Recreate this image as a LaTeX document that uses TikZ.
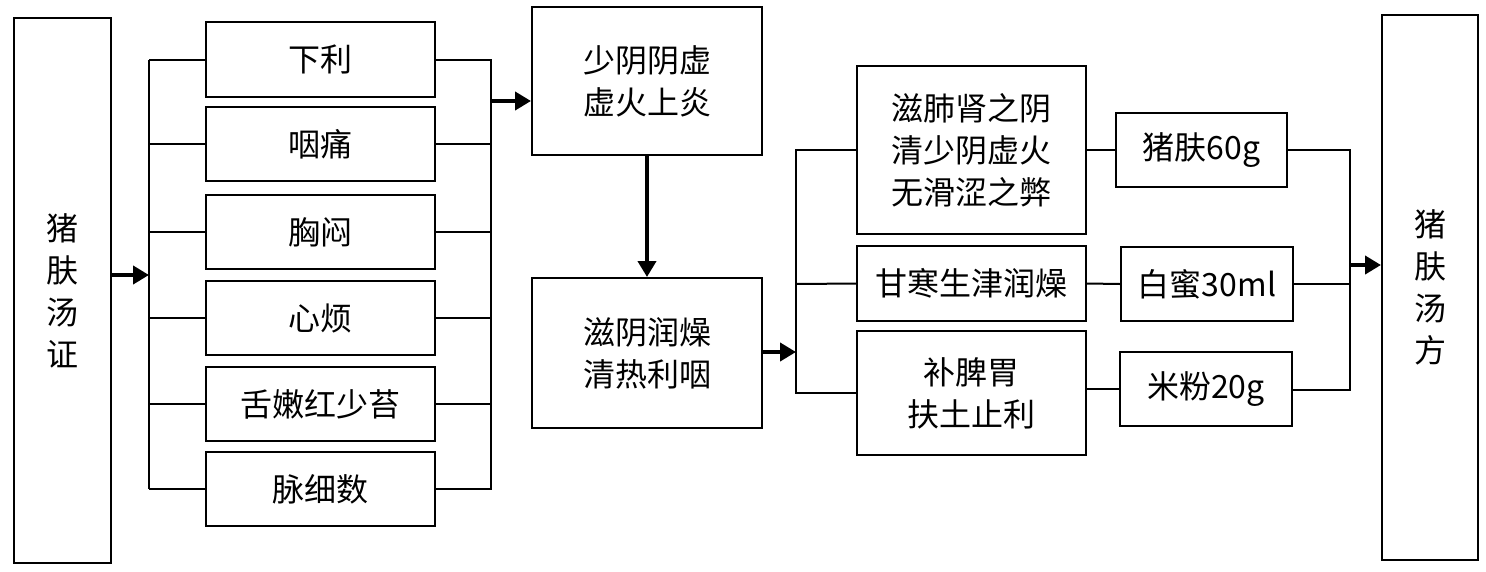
\documentclass[tikz,border=0pt]{standalone}
\usepackage{fontspec}
\newfontfamily\cjk{Noto Sans CJK SC}
\usetikzlibrary{arrows.meta}
\begin{document}
\begin{tikzpicture}[x=1pt,y=-1pt,
  bx/.style={draw,line width=2pt,inner sep=0pt,font=\cjk\fontsize{32}{42}\selectfont,align=center},
  ln/.style={line width=2pt},
  ar/.style={line width=4pt,-{Triangle[length=16pt,width=18pt]}}]
\useasboundingbox (0,0) rectangle (1486,571);
\newcommand\bxat[6]{\node[bx,minimum width={#4-#2},minimum height={#5-#3}] (#1) at ({(#2+#4)/2},{(#3+#5)/2}) {#6};}
\bxat{L}{14}{18}{111}{563}{猪\\肤\\汤\\证}
\bxat{s1}{206}{22}{435}{97}{下利}
\bxat{s2}{206}{107}{435}{181}{咽痛}
\bxat{s3}{206}{195}{435}{269}{胸闷}
\bxat{s4}{206}{281}{435}{355}{心烦}
\bxat{s5}{206}{367}{435}{441}{舌嫩红少苔}
\bxat{s6}{206}{452}{435}{526}{脉细数}
\bxat{A}{532}{7}{762}{155}{少阴阴虚\\虚火上炎}
\bxat{B}{532}{278}{762}{428}{滋阴润燥\\清热利咽}
\bxat{e1}{857}{66}{1086}{234}{滋肺肾之阴\\清少阴虚火\\无滑涩之弊}
\bxat{e2}{857}{246}{1086}{321}{甘寒生津润燥}
\bxat{e3}{857}{331}{1086}{455}{补脾胃\\扶土止利}
\bxat{h1}{1116}{113}{1287}{187}{猪肤60g}
\bxat{h2}{1121}{247}{1293}{321}{白蜜30ml}
\bxat{h3}{1120}{352}{1292}{426}{米粉20g}
\bxat{R}{1382}{15}{1478}{560}{猪\\肤\\汤\\方}
\coordinate (lb) at (149,275);
\draw[ar] (L.east|-lb) -- (lb);
\draw[ln] (149,{(22+97)/2}) -- (149,{(452+526)/2});
\draw[ln] (491,{(22+97)/2}) -- (491,{(452+526)/2});
\foreach \n in {s1,s2,s3,s4,s5,s6}{
  \draw[ln] (\n.west) -- (\n.west-|lb);
  \draw[ln] (\n.east) -- +(56,0);}
\coordinate (rb) at (491,101);
\draw[ar] (rb) -- (rb-|A.west);
\draw[ar] (A.south) -- (B.north);
\coordinate (mb) at (796,352);
\draw[ar] (B.east|-mb) -- (mb);
\draw[ln] (857,150) -- (796,150) -- (796,393) -- (e3.west);
\draw[ln] (e2.west) -- (796,284);
\draw[ln] (e1.east|-h1) -- (h1.west);
\draw[ln] (e2.east) -- (h2.west);
\draw[ln] (e3.east|-h3) -- (h3.west);
\draw[ln] (h1.east) -- (1350,150) -- (1350,390) -- (h3.east|-0,390);
\draw[ln] (h2.east) -- (1350,284);
\coordinate (fb) at (1350,265);
\draw[ar] (fb) -- (fb-|R.west);
\end{tikzpicture}
\end{document}
